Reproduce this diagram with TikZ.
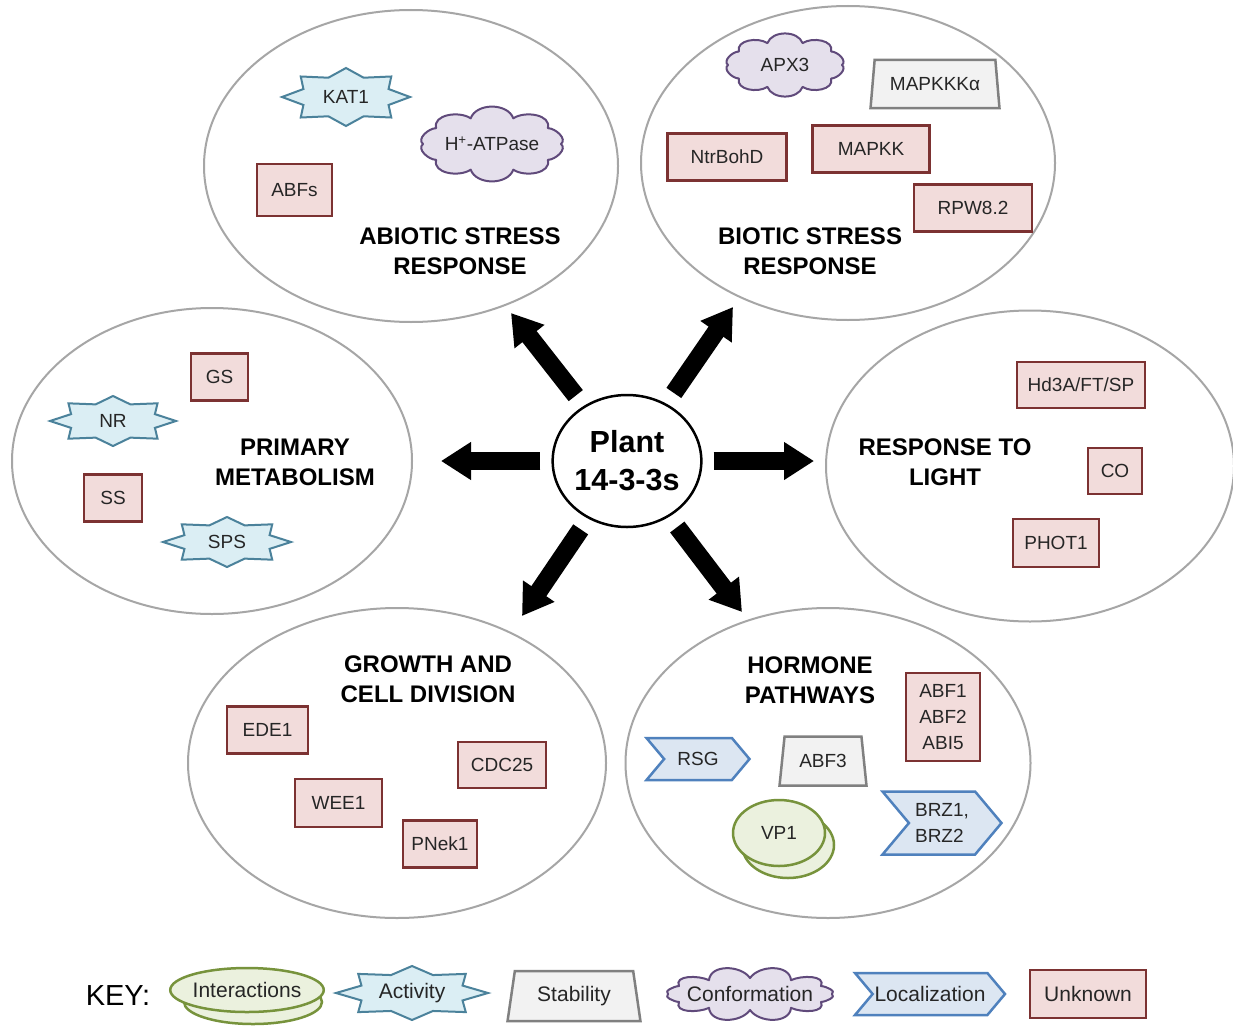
\documentclass[tikz,border=0pt]{standalone}
\usepackage{fontspec}
\setmainfont{Liberation Sans}
\usetikzlibrary{shapes.geometric,shapes.symbols,arrows.meta}
\definecolor{unkfill}{RGB}{242,220,219}
\definecolor{unkdraw}{RGB}{124,50,50}
\definecolor{actfill}{RGB}{219,238,244}
\definecolor{actdraw}{RGB}{75,130,155}
\definecolor{stabfill}{RGB}{242,242,242}
\definecolor{stabdraw}{RGB}{128,128,128}
\definecolor{confill}{RGB}{229,224,236}
\definecolor{condraw}{RGB}{96,74,123}
\definecolor{locfill}{RGB}{220,230,242}
\definecolor{locdraw}{RGB}{79,129,189}
\definecolor{intfill}{RGB}{235,241,222}
\definecolor{intdraw}{RGB}{119,147,60}
\definecolor{ringgray}{RGB}{166,166,166}
\definecolor{txt}{RGB}{38,38,38}
\tikzset{
  group/.style={ellipse, draw=ringgray, line width=2pt, inner sep=0pt},
  grouptitle/.style={font=\fontsize{24}{30}\selectfont\bfseries, align=center, text=black},
  lbl/.style={font=\fontsize{19}{26}\selectfont, text=txt, align=center},
  keylbl/.style={font=\fontsize{21}{26}\selectfont, text=txt},
  unknownbox/.style={rectangle, draw=unkdraw, fill=unkfill, line width=2.5pt, inner sep=0pt},
  stabbox/.style={trapezium, trapezium stretches=true, trapezium left angle=77, trapezium right angle=77, draw=stabdraw, fill=stabfill, line width=2.5pt, inner sep=0pt},
  cloudline/.style={draw=condraw, fill=confill, line width=2pt, line join=round},
  locbox/.style={signal, signal to=east, signal from=west, signal pointer angle=100, draw=locdraw, fill=locfill, line width=2.5pt, inner sep=0pt},
  intbox/.style={ellipse, draw=intdraw, fill=intfill, line width=2.5pt, inner sep=0pt},
  actline/.style={draw=actdraw, fill=actfill, line width=2pt, line join=miter},
  hubnode/.style={ellipse, draw=black, line width=2.5pt, fill=white, inner sep=0pt, font=\fontsize{30.5}{38}\selectfont\bfseries, align=center},
  bigarrow/.style={line width=18pt, shorten <=13pt, -{Triangle[length=30pt,width=36pt]}}
}
% #1 name, #2 x, #3 y, #4 half width, #5 half height, #6 style, #7 text
\newcommand{\actstar}[7]{%
  \draw[actline] ([shift={(0:#4pt and #5pt)}]#2,#3)
    \foreach \k [evaluate=\k as \fa using {(mod(\k,2)==0?1:0.72)*#4},
                 evaluate=\k as \fb using {(mod(\k,2)==0?1:0.72)*#5}] in {1,...,15}
      { -- ([shift={(\k*22.5:\fa pt and \fb pt)}]#2,#3) } -- cycle;
  \node[#6] (#1) at (#2,#3) {#7};
}
% #1 name, #2 x, #3 y, #4 base rx, #5 base ry, #6 puffs, #7 style, #8 text
\newcommand{\confcloud}[8]{%
  \draw[cloudline] ([shift={(0:#4pt and #5pt)}]#2,#3)
    \foreach \k [evaluate=\k as \ta using {(\k-0.5)*360/#6+20},
                 evaluate=\k as \tb using {(\k-0.5)*360/#6-20},
                 evaluate=\k as \tt using {\k*360/#6}] in {1,...,#6}
      { to[out=\ta, in=\tb] ([shift={(\tt:#4pt and #5pt)}]#2,#3) } -- cycle;
  \node[#7] (#1) at (#2,#3) {#8};
}
% #1 name, #2 x, #3 y, #4 rx, #5 ry, #6 dx, #7 dy, #8 style, #9 text
\newcommand{\intpair}[9]{%
  \draw[draw=intdraw, fill=intfill, line width=2.5pt] ({#2+#6},{#3+#7}) ellipse [x radius=#4pt, y radius=#5pt];
  \node[intbox, #8, minimum width=2*#4pt, minimum height=2*#5pt] (#1) at (#2,#3) {#9};
}
\begin{document}
\begin{tikzpicture}[x=1pt, y=-1pt]
\useasboundingbox (0,0) rectangle (1233,1025);
\fill[white] (0,0) rectangle (1233,1025);

% group ellipses
\node[group, minimum width=414pt, minimum height=312pt] (abiotic) at (411,166) {};
\node[group, minimum width=414pt, minimum height=314pt] (biotic) at (848,163) {};
\node[group, minimum width=400pt, minimum height=306pt] (metab) at (212,461) {};
\node[group, minimum width=408pt, minimum height=311pt] (light) at (1030,466) {};
\node[group, minimum width=418pt, minimum height=310pt] (growth) at (397,763) {};
\node[group, minimum width=405pt, minimum height=310pt] (hormone) at (828,763) {};

% titles
\node[grouptitle] (tabiotic) at (460,251) {ABIOTIC STRESS\\RESPONSE};
\node[grouptitle] (tbiotic) at (810,251) {BIOTIC STRESS\\RESPONSE};
\node[grouptitle] (tmetab) at (295,462) {PRIMARY\\METABOLISM};
\node[grouptitle] (tlight) at (945,462) {RESPONSE TO\\LIGHT};
\node[grouptitle] (tgrowth) at (428,679) {GROWTH AND\\CELL DIVISION};
\node[grouptitle] (thormone) at (810,680) {HORMONE\\PATHWAYS};

% hub and arrows
\node[hubnode, minimum width=143pt, minimum height=132pt] (hub) at (627,461) {Plant\\14-3-3s};
\coordinate (tipabiotic) at (511,313);
\coordinate (tipbiotic) at (733,307);
\coordinate (tipmetab) at (441,461);
\coordinate (tiplight) at (814,461);
\coordinate (tipgrowth) at (522,616);
\coordinate (tiphormone) at (742,612);
\draw[bigarrow] (hub) -- (tipabiotic);
\draw[bigarrow] (hub) -- (tipbiotic);
\draw[bigarrow, shorten <=11pt] (hub) -- (tipmetab);
\draw[bigarrow, shorten <=11pt] (hub) -- (tiplight);
\draw[bigarrow] (hub) -- (tipgrowth);
\draw[bigarrow] (hub) -- (tiphormone);

% abiotic
\actstar{kat}{346}{97}{64}{29}{lbl}{KAT1}
\confcloud{hatp}{492}{144}{69}{27}{10}{lbl}{H\textsuperscript{+}-ATPase}
\node[unknownbox, lbl, minimum width=75pt, minimum height=52pt] (abfs) at (294.5,190) {ABFs};

% biotic
\confcloud{apx}{785}{65}{57}{23}{10}{lbl}{APX3}
\node[stabbox, lbl, minimum width=130pt, minimum height=48pt] (mapkkk) at (935,84) {MAPKKKα};
\node[unknownbox, lbl, minimum width=119pt, minimum height=47pt] (ntr) at (727,157) {NtrBohD};
\node[unknownbox, lbl, minimum width=117pt, minimum height=47pt] (mapkk) at (871,149) {MAPKK};
\node[unknownbox, lbl, minimum width=118pt, minimum height=47pt] (rpw) at (973,208) {RPW8.2};

% primary metabolism
\node[unknownbox, lbl, minimum width=57pt, minimum height=47pt] (gs) at (219.5,377) {GS};
\actstar{nr}{113}{421}{63}{25}{lbl}{NR}
\node[unknownbox, lbl, minimum width=58pt, minimum height=47pt] (ss) at (113,498) {SS};
\actstar{sps}{227}{542}{64}{25}{lbl}{SPS}

% light
\node[unknownbox, lbl, minimum width=128pt, minimum height=46pt] (hd3a) at (1081,385) {Hd3A/FT/SP};
\node[unknownbox, lbl, minimum width=54pt, minimum height=46pt] (co) at (1115,471) {CO};
\node[unknownbox, lbl, minimum width=86pt, minimum height=48pt] (phot) at (1056,543) {PHOT1};

% growth
\node[unknownbox, lbl, minimum width=81pt, minimum height=47pt] (ede) at (267.5,730) {EDE1};
\node[unknownbox, lbl, minimum width=88pt, minimum height=46pt] (cdc) at (502,765) {CDC25};
\node[unknownbox, lbl, minimum width=87pt, minimum height=48pt] (wee) at (338.5,803) {WEE1};
\node[unknownbox, lbl, minimum width=74pt, minimum height=47pt] (pnek) at (440,844) {PNek1};

% hormone
\node[unknownbox, lbl, minimum width=74pt, minimum height=88pt] (abf) at (943,717) {ABF1\\ABF2\\ABI5};
\node[locbox, lbl, minimum width=103pt, minimum height=42pt] (rsg) at (698,759) {RSG};
\node[stabbox, lbl, minimum width=87pt, minimum height=49pt] (abf3) at (823,761) {ABF3};
\node[locbox, lbl, align=left, minimum width=119pt, minimum height=63pt] (brz) at (942,823) {BRZ1,\\BRZ2};
\intpair{vp}{779}{833}{46}{33}{9}{12}{lbl}{VP1}

% key
\node[font=\fontsize{29}{32}\selectfont, text=black] (key) at (118,996) {KEY:};
\intpair{kint}{247}{990}{69}{22}{6}{12}{keylbl}{Interactions}
\actstar{kact}{412}{993}{76}{27}{keylbl}{Activity}
\node[stabbox, keylbl, minimum width=133pt, minimum height=50pt] (kstab) at (574,996) {Stability};
\confcloud{kconf}{750}{994}{82}{16}{12}{keylbl}{Conformation}
\node[locbox, keylbl, minimum width=150pt, minimum height=42pt] (kloc) at (930,994) {Localization};
\node[unknownbox, keylbl, minimum width=116pt, minimum height=48pt] (kunk) at (1088,994) {Unknown};
\end{tikzpicture}
\end{document}
